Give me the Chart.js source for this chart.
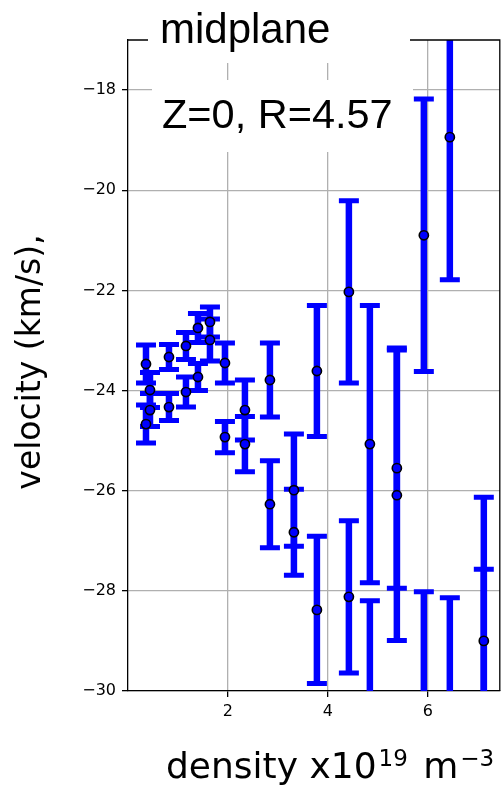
<!DOCTYPE html>
<html>
<head>
<meta charset="utf-8">
<script src="https://cdn.jsdelivr.net/npm/chart.js@4"></script>
<style>
  html, body { margin: 0; padding: 0; background: #fff; overflow: hidden; }
  #chart { display: block; }
</style>
</head>
<body>
<!-- a few px wider than the window: Chart.js keeps a small right margin for the x labels -->
<canvas id="chart" width="506" height="785"></canvas>
<script>
// density (x10^19 m^-3), velocity (km/s) and error bar half-height
const densities = [0.36, 0.44, 0.44, 0.36, 0.82, 0.82, 1.16, 1.16, 1.40, 1.40,
  1.64, 1.64, 1.94, 1.94, 2.34, 2.34, 2.84, 2.84, 3.32, 3.32,
  3.78, 3.78, 4.42, 4.42, 4.84, 4.84, 5.38, 5.38, 5.92, 5.92,
  6.44, 6.44, 7.12, 7.12];
const velocities = [-23.47, -23.99, -24.39, -24.67, -23.33, -24.33, -23.11, -24.03, -22.75, -23.73,
  -22.63, -22.99, -23.45, -24.93, -24.39, -25.07, -23.79, -26.27, -25.99, -26.83,
  -23.61, -28.38, -22.03, -28.12, -25.07, -31.0, -25.55, -26.09, -20.90, -30.74,
  -18.94, -31.0, -29.00, -30.40];
const errors = [0.38, 0.35, 0.33, 0.38, 0.25, 0.27, 0.27, 0.30, 0.29, 0.27,
  0.30, 0.42, 0.40, 0.31, 0.60, 0.55, 0.74, 0.87, 1.12, 0.86,
  1.31, 1.47, 1.82, 1.52, 2.77, 2.80, 2.40, 2.90, 2.72, 2.72,
  2.85, 2.86, 2.87, 2.83];

const xTicks = [2, 4, 6];
const yTicks = [-30, -28, -26, -24, -22, -20, -18];

const points = densities.map((d, i) => ({ x: d, y: velocities[i] }));

// draws vertical error bars with caps behind the markers
const errorBars = {
  id: "errorBars",
  beforeDatasetsDraw(chart) {
    const { ctx, chartArea, scales } = chart;
    ctx.save();
    ctx.beginPath();
    ctx.rect(chartArea.left, chartArea.top, chartArea.right - chartArea.left, chartArea.bottom - chartArea.top);
    ctx.clip();
    ctx.strokeStyle = "#0000ff";
    densities.forEach((d, i) => {
      const px = scales.x.getPixelForValue(d);
      const top = scales.y.getPixelForValue(velocities[i] + errors[i]);
      const bot = scales.y.getPixelForValue(velocities[i] - errors[i]);
      ctx.lineWidth = 6.5;
      ctx.beginPath();
      ctx.moveTo(px, top);
      ctx.lineTo(px, bot);
      ctx.stroke();
      ctx.lineWidth = 5;
      ctx.beginPath();
      ctx.moveTo(px - 10, top);
      ctx.lineTo(px + 10, top);
      ctx.moveTo(px - 10, bot);
      ctx.lineTo(px + 10, bot);
      ctx.stroke();
    });
    ctx.restore();
  },
};

// spines, text boxes and axis labels
const decorations = {
  id: "decorations",
  afterDraw(chart) {
    const { ctx, chartArea } = chart;
    ctx.save();
    ctx.strokeStyle = "#000";
    ctx.lineWidth = 1.3;
    ctx.beginPath();
    ctx.moveTo(chartArea.left, chartArea.top);
    ctx.lineTo(chartArea.right, chartArea.top);
    ctx.lineTo(chartArea.right, chartArea.bottom);
    ctx.stroke();

    // white boxes behind the two annotations
    ctx.fillStyle = "#fff";
    ctx.fillRect(148, 0, 262, 63);
    ctx.fillRect(152, 80, 261, 72);
    ctx.fillStyle = "#000";
    ctx.textAlign = "left";
    ctx.textBaseline = "alphabetic";
    ctx.font = "42px 'Liberation Sans', Arial, sans-serif";
    ctx.fillText("midplane", 160, 43);
    ctx.font = "41.5px 'Liberation Sans', Arial, sans-serif";
    ctx.fillText("Z=0, R=4.57", 162, 128);

    // y axis label
    ctx.font = "33px 'DejaVu Sans', sans-serif";
    ctx.save();
    ctx.translate(40, 362);
    ctx.rotate(-Math.PI / 2);
    ctx.textAlign = "center";
    ctx.fillText("velocity (km/s),", 0, 0);
    ctx.restore();

    // x axis label with superscripts (text, font, raise, gap before)
    const big = "36px 'DejaVu Sans', sans-serif";
    const small = "23px 'DejaVu Sans', sans-serif";
    const parts = [
      ["density x10", big, 0, 0],
      ["19", small, -12, 2],
      [" m", big, 0, 4],
      ["\u22123", small, -12, 2],
    ];
    let x = 166;
    const base = 778;
    parts.forEach(([t, f, dy, gap]) => {
      ctx.font = f;
      x += gap;
      ctx.fillText(t, x, base + dy);
      x += ctx.measureText(t).width;
    });
    ctx.restore();
  },
};

const tickFont = { family: "'DejaVu Sans', sans-serif", size: 16 };

new Chart(document.getElementById("chart"), {
  type: "scatter",
  data: {
    datasets: [
      {
        data: points,
        backgroundColor: "#0000ff",
        borderColor: "#000",
        borderWidth: 1.6,
        pointRadius: 4.6,
      },
    ],
  },
  options: {
    responsive: false,
    animation: false,
    layout: { padding: { top: 40, right: 2, left: 0, bottom: 0 } },
    plugins: { legend: { display: false }, tooltip: { enabled: false } },
    scales: {
      x: {
        type: "linear",
        min: 0,
        max: 7.44,
        afterBuildTicks: (s) => { s.ticks = xTicks.map((v) => ({ value: v })); },
        afterFit: (s) => { s.height = 94; },
        grid: { color: "#b0b0b0", lineWidth: 1.3, tickLength: 6, tickColor: "#000" },
        border: { color: "#000", width: 1.3 },
        ticks: { font: tickFont, color: "#000", padding: 5, maxRotation: 0 },
      },
      y: {
        type: "linear",
        min: -30,
        max: -17,
        afterBuildTicks: (s) => { s.ticks = yTicks.map((v) => ({ value: v })); },
        afterFit: (s) => { s.width = 128; },
        grid: { color: "#b0b0b0", lineWidth: 1.3, tickLength: 6, tickColor: "#000" },
        border: { color: "#000", width: 1.3 },
        ticks: {
          font: tickFont,
          color: "#000",
          padding: 6,
          callback: (v) => (v < 0 ? "\u2212" + Math.abs(v) : String(v)),
        },
      },
    },
  },
  plugins: [errorBars, decorations],
});
</script>
</body>
</html>
